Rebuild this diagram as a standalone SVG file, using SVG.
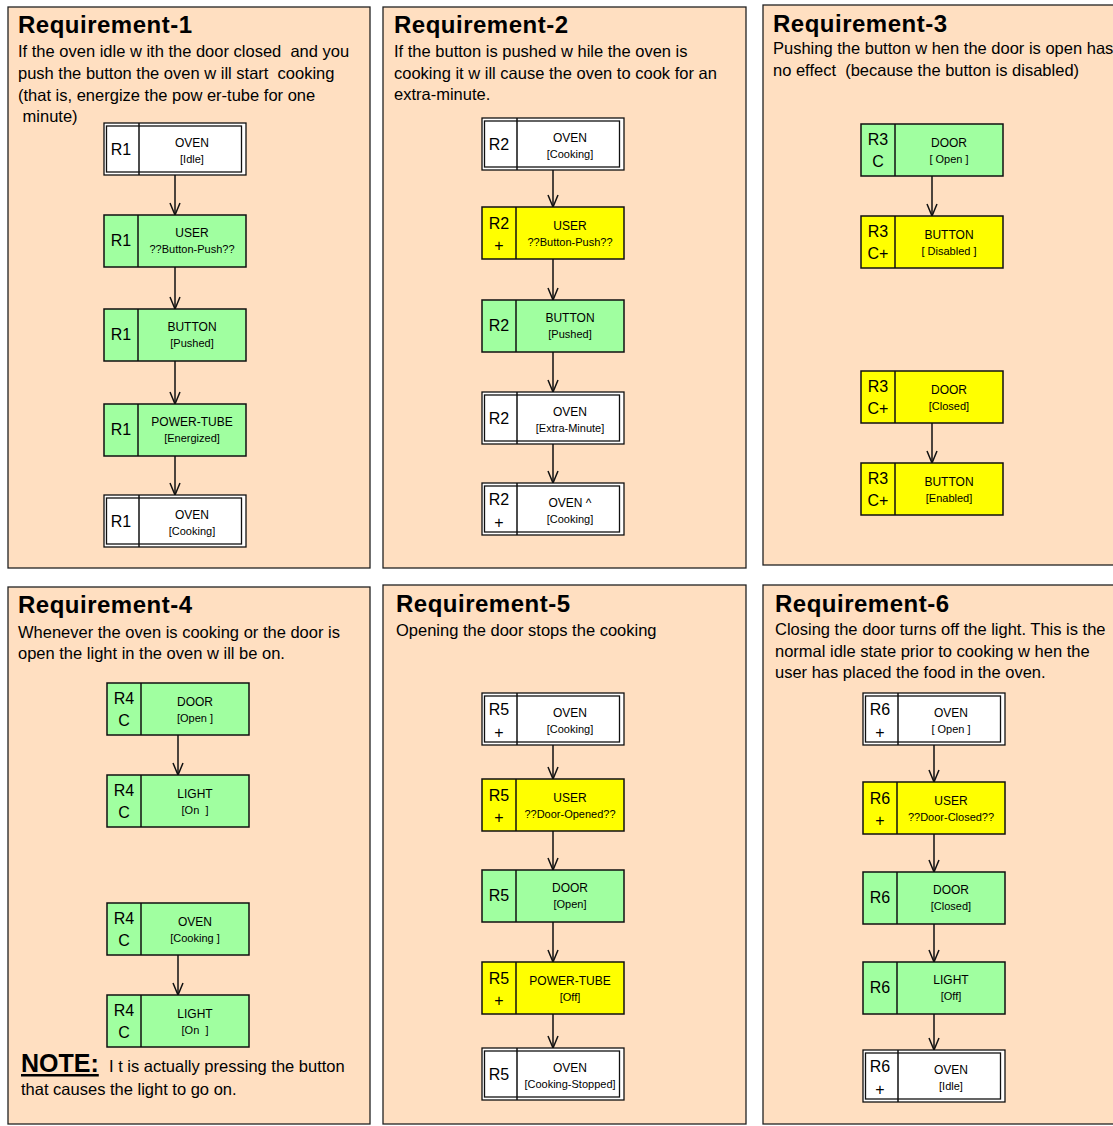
<svg xmlns="http://www.w3.org/2000/svg" width="1113" height="1126" viewBox="0 0 1113 1126">
<style>
.bg{fill:#ffffff}
.panel{fill:#FFDFC1;stroke:#222;stroke-width:1.3}
.title{font-family:"Liberation Sans",Arial,sans-serif;font-size:24px;font-weight:bold;fill:#000;letter-spacing:0.5px}
.desc{font-family:"Liberation Sans",Arial,sans-serif;font-size:16.5px;fill:#000;white-space:pre}
.g{fill:#A0FFA0;stroke:#111;stroke-width:1.5}
.y{fill:#FFFF00;stroke:#111;stroke-width:1.5}
.w{fill:#ffffff;stroke:#111;stroke-width:1.3}
.wi{fill:none;stroke:#111;stroke-width:1.3}
.div{stroke:#111;stroke-width:1.5}
.lab{font-family:"Liberation Sans",Arial,sans-serif;font-size:16px;text-anchor:middle;fill:#000}
.t1{font-family:"Liberation Sans",Arial,sans-serif;font-size:12px;text-anchor:middle;fill:#000}
.t2{font-family:"Liberation Sans",Arial,sans-serif;font-size:11px;text-anchor:middle;fill:#000;white-space:pre}
.conn line{stroke:#111;stroke-width:1.5;marker-end:url(#arr)}
</style>
<defs>
<marker id="arr" viewBox="0 0 14 12" refX="13" refY="6" markerWidth="14" markerHeight="12" markerUnits="userSpaceOnUse" orient="auto">
<path d="M1,1 L13,6 L1,11" fill="none" stroke="#111" stroke-width="1.5"/>
</marker>
<g id="dbl"><rect class="w" x="0" y="0" width="142" height="52"/><rect class="wi" x="2.5" y="3" width="135" height="46"/><line class="div" x1="35" y1="0" x2="35" y2="52"/></g>
<g id="grn"><rect class="g" x="0" y="0" width="142" height="52"/><line class="div" x1="34" y1="0" x2="34" y2="52"/></g>
<g id="yel"><rect class="y" x="0" y="0" width="142" height="52"/><line class="div" x1="34" y1="0" x2="34" y2="52"/></g>
</defs>
<rect class="bg" x="0" y="0" width="1113" height="1126"/>

<g id="panels">
<rect class="panel" x="8" y="7" width="362" height="561"/>
<rect class="panel" x="383" y="7" width="363" height="561"/>
<rect class="panel" x="763" y="5" width="360" height="560"/>
<rect class="panel" x="8" y="587" width="362" height="537"/>
<rect class="panel" x="383" y="585" width="363" height="539"/>
<rect class="panel" x="763" y="585" width="360" height="539"/>
</g>

<g id="texts">
<text class="title" x="18" y="33">Requirement-1</text>
<text class="desc" x="18" y="57">If the oven idle w ith the door closed  and you</text>
<text class="desc" x="18" y="79">push the button the oven w ill start  cooking</text>
<text class="desc" x="18" y="101">(that is, energize the pow er-tube for one</text>
<text class="desc" x="18" y="122"> minute)</text>

<text class="title" x="394" y="33">Requirement-2</text>
<text class="desc" x="394" y="57">If the button is pushed w hile the oven is</text>
<text class="desc" x="394" y="79">cooking it w ill cause the oven to cook for an</text>
<text class="desc" x="394" y="100">extra-minute.</text>

<text class="title" x="773" y="32">Requirement-3</text>
<text class="desc" x="773" y="54">Pushing the button w hen the door is open has</text>
<text class="desc" x="773" y="76">no effect  (because the button is disabled)</text>

<text class="title" x="18" y="613">Requirement-4</text>
<text class="desc" x="18" y="638">Whenever the oven is cooking or the door is</text>
<text class="desc" x="18" y="659">open the light in the oven w ill be on.</text>
<text x="21" y="1072" style="font-family:'Liberation Sans',Arial,sans-serif;font-size:25px;font-weight:bold;text-decoration:underline">NOTE:</text>
<text class="desc" x="109" y="1072">I t is actually pressing the button</text>
<text class="desc" x="21" y="1095">that causes the light to go on.</text>

<text class="title" x="396" y="612">Requirement-5</text>
<text class="desc" x="396" y="636">Opening the door stops the cooking</text>

<text class="title" x="775" y="612">Requirement-6</text>
<text class="desc" x="775" y="635">Closing the door turns off the light. This is the</text>
<text class="desc" x="775" y="657">normal idle state prior to cooking w hen the</text>
<text class="desc" x="775" y="678">user has placed the food in the oven.</text>
</g>

<g id="connectors" class="conn">
<line x1="175" y1="175" x2="175" y2="215"/>
<line x1="175" y1="267" x2="175" y2="309"/>
<line x1="175" y1="361" x2="175" y2="404"/>
<line x1="175" y1="456" x2="175" y2="495"/>
<line x1="553" y1="170" x2="553" y2="207"/>
<line x1="553" y1="259" x2="553" y2="300"/>
<line x1="553" y1="352" x2="553" y2="392"/>
<line x1="553" y1="444" x2="553" y2="483"/>
<line x1="932" y1="176" x2="932" y2="216"/>
<line x1="932" y1="423" x2="932" y2="463"/>
<line x1="178" y1="735" x2="178" y2="775"/>
<line x1="178" y1="955" x2="178" y2="995"/>
<line x1="553" y1="745" x2="553" y2="779"/>
<line x1="553" y1="831" x2="553" y2="870"/>
<line x1="553" y1="922" x2="553" y2="962"/>
<line x1="553" y1="1014" x2="553" y2="1048"/>
<line x1="934" y1="745" x2="934" y2="782"/>
<line x1="934" y1="834" x2="934" y2="872"/>
<line x1="934" y1="924" x2="934" y2="962"/>
<line x1="934" y1="1014" x2="934" y2="1050"/>
</g>

<!-- Panel 1 -->
<g id="n1-1" transform="translate(104,123)"><use href="#dbl"/><text class="lab" x="17" y="32">R1</text><text class="t1" x="88" y="24">OVEN</text><text class="t2" x="88" y="40">[Idle]</text></g>
<g id="n1-2" transform="translate(104,215)"><use href="#grn"/><text class="lab" x="17" y="31">R1</text><text class="t1" x="88" y="22">USER</text><text class="t2" x="88" y="38">??Button-Push??</text></g>
<g id="n1-3" transform="translate(104,309)"><use href="#grn"/><text class="lab" x="17" y="31">R1</text><text class="t1" x="88" y="22">BUTTON</text><text class="t2" x="88" y="38">[Pushed]</text></g>
<g id="n1-4" transform="translate(104,404)"><use href="#grn"/><text class="lab" x="17" y="31">R1</text><text class="t1" x="88" y="22">POWER-TUBE</text><text class="t2" x="88" y="38">[Energized]</text></g>
<g id="n1-5" transform="translate(104,495)"><use href="#dbl"/><text class="lab" x="17" y="32">R1</text><text class="t1" x="88" y="24">OVEN</text><text class="t2" x="88" y="40">[Cooking]</text></g>

<!-- Panel 2 -->
<g id="n2-1" transform="translate(482,118)"><use href="#dbl"/><text class="lab" x="17" y="32">R2</text><text class="t1" x="88" y="24">OVEN</text><text class="t2" x="88" y="40">[Cooking]</text></g>
<g id="n2-2" transform="translate(482,207)"><use href="#yel"/><text class="lab" x="17" y="22">R2</text><text class="lab" x="17" y="44">+</text><text class="t1" x="88" y="23">USER</text><text class="t2" x="88" y="39">??Button-Push??</text></g>
<g id="n2-3" transform="translate(482,300)"><use href="#grn"/><text class="lab" x="17" y="31">R2</text><text class="t1" x="88" y="22">BUTTON</text><text class="t2" x="88" y="38">[Pushed]</text></g>
<g id="n2-4" transform="translate(482,392)"><use href="#dbl"/><text class="lab" x="17" y="32">R2</text><text class="t1" x="88" y="24">OVEN</text><text class="t2" x="88" y="40">[Extra-Minute]</text></g>
<g id="n2-5" transform="translate(482,483)"><use href="#dbl"/><text class="lab" x="17" y="22">R2</text><text class="lab" x="17" y="45">+</text><text class="t1" x="88" y="24">OVEN ^</text><text class="t2" x="88" y="40">[Cooking]</text></g>

<!-- Panel 3 -->
<g id="n3-1" transform="translate(861,124)"><use href="#grn"/><text class="lab" x="17" y="21">R3</text><text class="lab" x="17" y="43">C</text><text class="t1" x="88" y="23">DOOR</text><text class="t2" x="88" y="39">[ Open ]</text></g>
<g id="n3-2" transform="translate(861,216)"><use href="#yel"/><text class="lab" x="17" y="21">R3</text><text class="lab" x="17" y="43">C+</text><text class="t1" x="88" y="23">BUTTON</text><text class="t2" x="88" y="39">[ Disabled ]</text></g>
<g id="n3-3" transform="translate(861,371)"><use href="#yel"/><text class="lab" x="17" y="21">R3</text><text class="lab" x="17" y="43">C+</text><text class="t1" x="88" y="23">DOOR</text><text class="t2" x="88" y="39">[Closed]</text></g>
<g id="n3-4" transform="translate(861,463)"><use href="#yel"/><text class="lab" x="17" y="21">R3</text><text class="lab" x="17" y="43">C+</text><text class="t1" x="88" y="23">BUTTON</text><text class="t2" x="88" y="39">[Enabled]</text></g>

<!-- Panel 4 -->
<g id="n4-1" transform="translate(107,683)"><use href="#grn"/><text class="lab" x="17" y="21">R4</text><text class="lab" x="17" y="43">C</text><text class="t1" x="88" y="23">DOOR</text><text class="t2" x="88" y="39">[Open ]</text></g>
<g id="n4-2" transform="translate(107,775)"><use href="#grn"/><text class="lab" x="17" y="21">R4</text><text class="lab" x="17" y="43">C</text><text class="t1" x="88" y="23">LIGHT</text><text class="t2" x="88" y="39">[On  ]</text></g>
<g id="n4-3" transform="translate(107,903)"><use href="#grn"/><text class="lab" x="17" y="21">R4</text><text class="lab" x="17" y="43">C</text><text class="t1" x="88" y="23">OVEN</text><text class="t2" x="88" y="39">[Cooking ]</text></g>
<g id="n4-4" transform="translate(107,995)"><use href="#grn"/><text class="lab" x="17" y="21">R4</text><text class="lab" x="17" y="43">C</text><text class="t1" x="88" y="23">LIGHT</text><text class="t2" x="88" y="39">[On  ]</text></g>

<!-- Panel 5 -->
<g id="n5-1" transform="translate(482,693)"><use href="#dbl"/><text class="lab" x="17" y="22">R5</text><text class="lab" x="17" y="45">+</text><text class="t1" x="88" y="24">OVEN</text><text class="t2" x="88" y="40">[Cooking]</text></g>
<g id="n5-2" transform="translate(482,779)"><use href="#yel"/><text class="lab" x="17" y="22">R5</text><text class="lab" x="17" y="44">+</text><text class="t1" x="88" y="23">USER</text><text class="t2" x="88" y="39">??Door-Opened??</text></g>
<g id="n5-3" transform="translate(482,870)"><use href="#grn"/><text class="lab" x="17" y="31">R5</text><text class="t1" x="88" y="22">DOOR</text><text class="t2" x="88" y="38">[Open]</text></g>
<g id="n5-4" transform="translate(482,962)"><use href="#yel"/><text class="lab" x="17" y="22">R5</text><text class="lab" x="17" y="44">+</text><text class="t1" x="88" y="23">POWER-TUBE</text><text class="t2" x="88" y="39">[Off]</text></g>
<g id="n5-5" transform="translate(482,1048)"><use href="#dbl"/><text class="lab" x="17" y="32">R5</text><text class="t1" x="88" y="24">OVEN</text><text class="t2" x="88" y="40">[Cooking-Stopped]</text></g>

<!-- Panel 6 -->
<g id="n6-1" transform="translate(863,693)"><use href="#dbl"/><text class="lab" x="17" y="22">R6</text><text class="lab" x="17" y="45">+</text><text class="t1" x="88" y="24">OVEN</text><text class="t2" x="88" y="40">[ Open ]</text></g>
<g id="n6-2" transform="translate(863,782)"><use href="#yel"/><text class="lab" x="17" y="22">R6</text><text class="lab" x="17" y="44">+</text><text class="t1" x="88" y="23">USER</text><text class="t2" x="88" y="39">??Door-Closed??</text></g>
<g id="n6-3" transform="translate(863,872)"><use href="#grn"/><text class="lab" x="17" y="31">R6</text><text class="t1" x="88" y="22">DOOR</text><text class="t2" x="88" y="38">[Closed]</text></g>
<g id="n6-4" transform="translate(863,962)"><use href="#grn"/><text class="lab" x="17" y="31">R6</text><text class="t1" x="88" y="22">LIGHT</text><text class="t2" x="88" y="38">[Off]</text></g>
<g id="n6-5" transform="translate(863,1050)"><use href="#dbl"/><text class="lab" x="17" y="22">R6</text><text class="lab" x="17" y="45">+</text><text class="t1" x="88" y="24">OVEN</text><text class="t2" x="88" y="40">[Idle]</text></g>
</svg>
